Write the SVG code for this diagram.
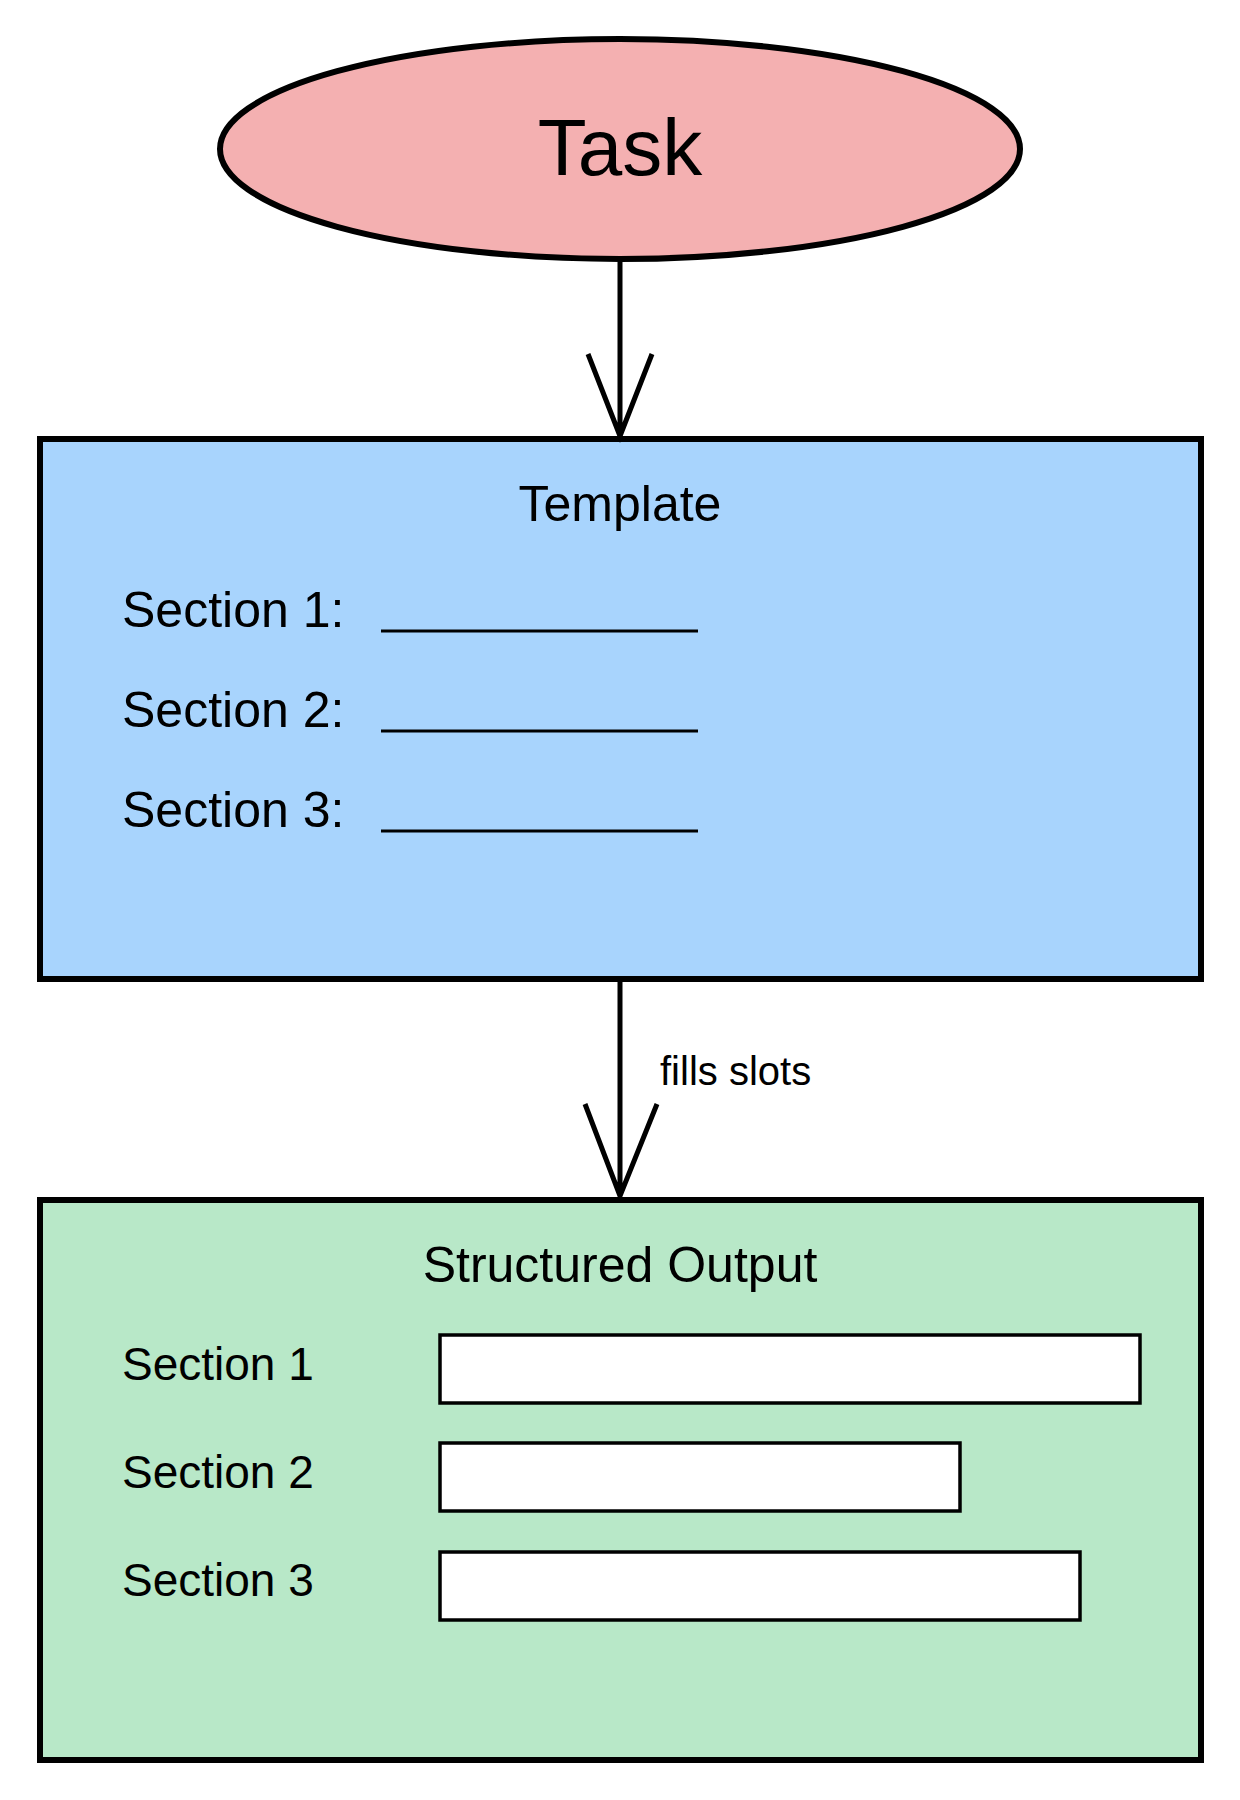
<svg xmlns="http://www.w3.org/2000/svg" width="1240" height="1800" viewBox="0 0 1240 1800">
<style>
text{font-family:"Liberation Sans",Arial,sans-serif;fill:#000}
.b{stroke:#000;stroke-width:6}
.c{stroke:#000;stroke-width:5;fill:none}
.w{fill:#fff;stroke:#000;stroke-width:3.5}
.s{font-size:50px}
</style>
<rect width="1240" height="1800" fill="#fff"/>
<g id="task"><ellipse cx="620" cy="149" rx="400" ry="110" fill="#f4b0b1" class="b"/><text x="620" y="175" font-size="80" text-anchor="middle">Task</text></g>
<g id="template"><rect x="40" y="439" width="1161" height="540" fill="#a8d4fd" class="b"/>
<text x="620" y="521" class="s" text-anchor="middle">Template</text>
<text x="122" y="627" class="s">Section 1:</text><text x="122" y="727" class="s">Section 2:</text><text x="122" y="827" class="s">Section 3:</text>
<path d="M381 631H698M381 731H698M381 831H698" stroke="#000" stroke-width="3"/></g>
<g id="output"><rect x="40" y="1200" width="1161" height="560" fill="#b8e8c8" class="b"/>
<text x="620" y="1282" class="s" text-anchor="middle">Structured Output</text>
<text x="122" y="1380" font-size="46">Section 1</text><text x="122" y="1488" font-size="46">Section 2</text><text x="122" y="1596" font-size="46">Section 3</text>
<rect x="440" y="1335" width="700" height="68" class="w"/><rect x="440" y="1443" width="520" height="68" class="w"/><rect x="440" y="1552" width="640" height="68" class="w"/></g>
<g id="connectors">
<path class="c" d="M620 262V436M588 354L620 436L652 354"/>
<path class="c" d="M620 982V1196M585 1104L620 1196L657 1104"/>
<text x="660" y="1085" font-size="40">fills slots</text>
</g>
</svg>
